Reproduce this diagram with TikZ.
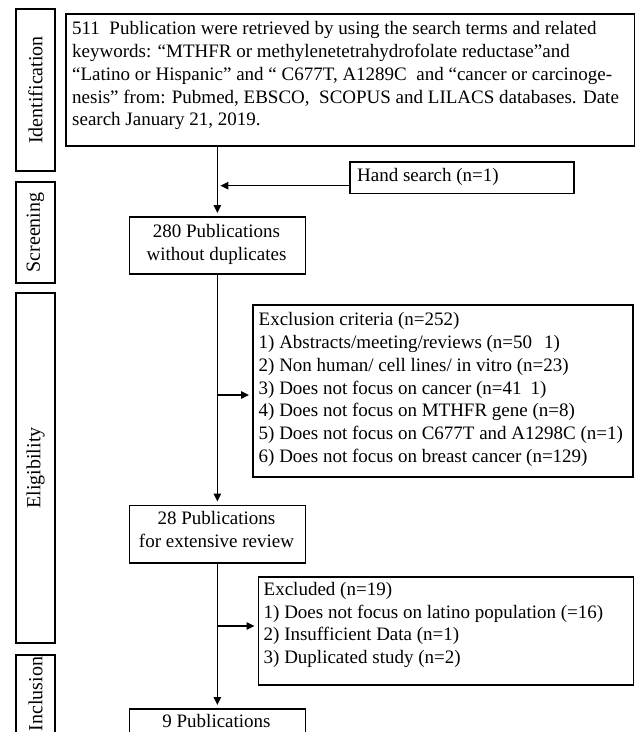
\documentclass[tikz,border=0pt]{standalone}
\usepackage{fontspec}
\setmainfont{Liberation Serif}
\usetikzlibrary{arrows.meta}
\newcommand{\fl}{\rule{0pt}{16pt}}
\begin{document}
\begin{tikzpicture}[x=1pt,y=-1pt,
  font=\fontsize{19}{22.8}\selectfont,
  box/.style={draw, line width=1.7pt, inner sep=0pt, anchor=north west},
  lab/.style={draw, line width=1.7pt, inner sep=0pt, rotate=90, minimum height=39pt, font=\fontsize{20}{24}\selectfont},
  txt/.style={inner sep=0pt, anchor=north west, align=left},
  ctxt/.style={inner sep=0pt, anchor=north, align=center},
  arr/.style={line width=1.5pt, -{Triangle[length=8pt,width=7.5pt]}, shorten >=3pt}]
\useasboundingbox (0,0) rectangle (635,732);
\clip (0,0) rectangle (635,732);
\fill[white] (0,0) rectangle (635,732);

% stage labels
\node[lab, minimum width=162pt] (lid) at (35.5,90) {Identification};
\node[lab, minimum width=101pt] (lsc) at (35.5,232.5) {Screening};
\node[lab, minimum width=350pt] (lel) at (35.5,468) {Eligibility};
\node[lab, minimum width=78pt]  (lin) at (35.5,694) {Inclusion};

% boxes
\node[box, minimum width=569pt, minimum height=132pt] (main) at (65,13) {};
\node[box, minimum width=224pt, minimum height=31.5pt] (hand) at (349,161) {};
\node[box, minimum width=176pt, minimum height=57pt] (n280) at (128.5,216) {};
\node[box, minimum width=380pt, minimum height=172pt] (excl) at (252,304) {};
\node[box, minimum width=176pt, minimum height=57.5pt] (n28) at (128.5,504.5) {};
\node[box, minimum width=375pt, minimum height=108pt] (exd) at (257.5,576) {};
\node[box, minimum width=176pt, minimum height=58pt] (n9) at (128.5,708) {};

% texts
\node[txt] (mainT) at (72,18.5) {\fl 511\ \ Publication were retrieved by using the search terms and related\\
keywords: “MTHFR or methylenetetrahydrofolate reductase”and\\
“Latino or Hispanic” and “ C677T, A1289C\ \ and “cancer or carcinoge-\\
nesis” from: Pubmed, EBSCO,\ \ SCOPUS and LILACS databases. Date\\
search January 21, 2019.};
\node[txt] (handT) at (357,165.5) {\fl Hand search (n=1)};
\node[ctxt] (t280) at (216.5,221.3) {\fl 280 Publications\\without duplicates};
\node[txt] (exclT) at (258.5,309.5) {\fl Exclusion criteria (n=252)\\
1) Abstracts/meeting/reviews (n=50\hspace{12pt}1)\\
2) Non human/ cell lines/ in vitro (n=23)\\
3) Does not focus on cancer (n=41\hspace{9pt}1)\\
4) Does not focus on MTHFR gene (n=8)\\
5) Does not focus on C677T and A1298C (n=1)\\
6) Does not focus on breast cancer (n=129)};
\node[ctxt] (t28) at (216.5,508) {\fl 28 Publications\\for extensive review};
\node[txt] (exdT) at (263.5,579) {\fl Excluded (n=19)\\
1) Does not focus on latino population (=16)\\
2) Insufficient Data (n=1)\\
3) Duplicated study (n=2)};
\node[ctxt] (t9) at (216.5,711.7) {\fl 9 Publications};

% connectors
\coordinate (ha) at ([yshift=8.5pt]hand.south west);
\coordinate (b1) at (216.5,395);
\coordinate (b2) at (216.5,626);
\draw[arr] (main.south -| n280.north) -- (n280.north);
\draw[arr] (ha) -- (ha -| n280.north);
\draw[arr] (n280.south) -- (n28.north);
\draw[arr] (b1) -- (b1 -| excl.west);
\draw[arr] (n28.south) -- (n9.north);
\draw[arr] (b2) -- (b2 -| exd.west);
\end{tikzpicture}
\end{document}
